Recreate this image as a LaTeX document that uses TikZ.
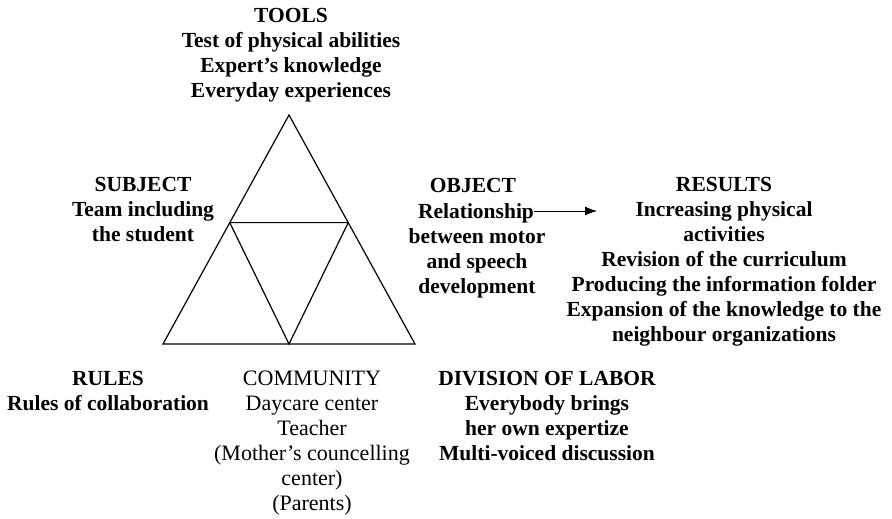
\documentclass[tikz,border=0pt]{standalone}
\usepackage{fontspec}
\setmainfont{Liberation Serif}
\usetikzlibrary{calc,arrows.meta}
\begin{document}
\begin{tikzpicture}[x=1pt,y=-1pt]
	\tikzstyle{bold text}=[align=center,anchor=north,inner sep=0,font=\bfseries\fontsize{21.5}{25}\selectfont]
	\tikzset{
		plain text/.style={bold text,font=\fontsize{22}{25}\selectfont},
		edge line/.style={line width=1.2pt,line join=miter}
	}
	\useasboundingbox (0,0) rectangle (892,519);
	\coordinate (top) at (289,115);
	\coordinate (left) at (163,344);
	\coordinate (right) at (415,344);
	\coordinate (bottom) at ($(left)!0.5!(right)$);
	\coordinate (midleft) at ($(left)!0.53!(top)$);
	\coordinate (midright) at ($(right)!0.53!(top)$);
	\draw[edge line] (top) -- (left) -- (right) -- cycle;
	\draw[edge line] (midleft) -- (midright) -- (bottom) -- cycle;
	\node(tools)[bold text] at (291,8)
		{TOOLS\\Test of physical abilities\\Expert's knowledge\\Everyday experiences};
	\node(subject)[bold text] at (143,177)
		{SUBJECT\\Team including\\the student};
	\node(object)[bold text] at (473,178) {OBJECT};
	\node(relation)[bold text] at (476,203.5) {Relationship};
	\node(objtext)[bold text] at (477,228)
		{between motor\\and speech\\development};
	\node(results)[bold text] at (724,177)
		{RESULTS\\Increasing physical\\activities\\Revision of the curriculum\\
		Producing the information folder\\Expansion of the knowledge to the\\
		neighbour organizations};
	\node(rules)[bold text] at (108,371)
		{RULES\\Rules of collaboration};
	\node(community)[plain text] at (312,371)
		{COMMUNITY\\Daycare center\\Teacher\\(Mother's councelling\\center)\\(Parents)};
	\node(division)[bold text] at (547,371)
		{DIVISION OF LABOR\\Everybody brings\\her own expertize\\Multi-voiced discussion};
	\coordinate (resin) at (597,211);
	\draw[-{Latex[length=12pt,width=9pt]},line width=0.9pt] (relation.east |- resin) -- (resin);
\end{tikzpicture}
\end{document}
